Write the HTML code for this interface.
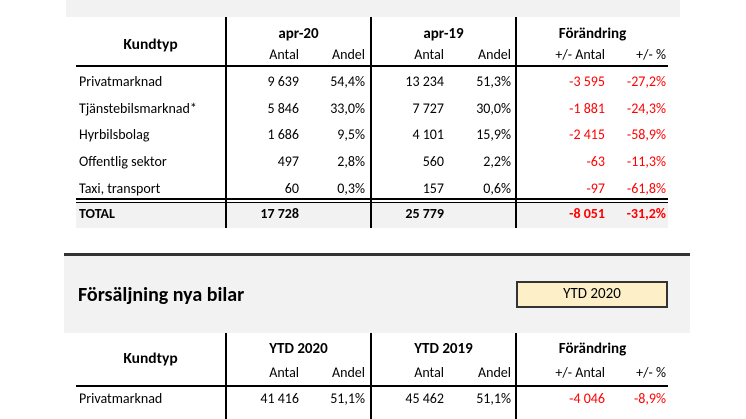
<!DOCTYPE html>
<html><head><meta charset="utf-8"><style>
body{margin:0;width:746px;height:419px;background:#fff;position:relative;overflow:hidden;font-family:"Carlito","Liberation Sans",sans-serif;font-size:14px;color:#000}
div{position:absolute}
.t{white-space:nowrap;line-height:16px}
.r{text-align:right}
.c{text-align:center}
.b{font-weight:bold}
.red{color:#ff0000}
.v{width:2px;background:#000}
</style></head><body>
<div style="left:66px;top:0;width:614px;height:17px;background:#f2f2f2"></div>
<div style="left:76px;top:203px;width:592px;height:25px;background:#f2f2f2"></div>
<div class="v" style="left:225px;top:17px;height:211px"></div>
<div class="v" style="left:370px;top:17px;height:211px"></div>
<div class="v" style="left:515px;top:17px;height:211px"></div>
<div style="left:76px;top:65px;width:592px;height:2px;background:#000"></div>
<div style="left:76px;top:198px;width:592px;height:2px;background:#000"></div>
<div style="left:76px;top:202px;width:592px;height:1px;background:#000"></div>

<div class="t b c" style="left:76px;top:36px;width:149px;font-size:15.5px;line-height:18px">Kundtyp</div>
<div class="t b c" style="left:227px;top:25px;width:143px;font-size:15px;line-height:18px">apr-20</div>
<div class="t b c" style="left:372px;top:25px;width:143px;font-size:15px;line-height:18px">apr-19</div>
<div class="t b c" style="left:517px;top:25px;width:151px;font-size:15px;line-height:18px">Förändring</div>

<div style="left:64px;top:253px;width:626px;height:3px;background:#333"></div>
<div style="left:64px;top:256px;width:626px;height:77px;background:#f2f2f2"></div>
<div class="t b" style="left:78px;top:283px;font-size:20px;line-height:24px">Försäljning nya bilar</div>
<div style="left:516px;top:281px;width:148px;height:23px;background:#fdf0c8;border:2px solid #333"></div>
<div class="t c" style="left:516px;top:285px;width:152px;font-size:15px;line-height:18px">YTD 2020</div>
<div class="v" style="left:225px;top:333px;height:86px"></div>
<div class="v" style="left:370px;top:333px;height:86px"></div>
<div class="v" style="left:515px;top:333px;height:86px"></div>
<div style="left:76px;top:385px;width:592px;height:2px;background:#000"></div>
<div class="t b c" style="left:76px;top:350px;width:149px;font-size:15.5px;line-height:18px">Kundtyp</div>
<div class="t b c" style="left:227px;top:340px;width:143px;font-size:15px;line-height:18px">YTD 2020</div>
<div class="t b c" style="left:372px;top:340px;width:143px;font-size:15px;line-height:18px">YTD 2019</div>
<div class="t b c" style="left:517px;top:340px;width:151px;font-size:15px;line-height:18px">Förändring</div>

<script>
function row(y,cells,cls){var h='';var rights=[299,365,444,511,605,666];
h+='<div class="t '+(cls||'')+'" style="left:79px;top:'+y+'px">'+cells[0]+'</div>';
for(var i=1;i<cells.length;i++){if(!cells[i])continue;var red=(i>=5&&cells[i].indexOf('+/-')!=0)?' red':'';
h+='<div class="t r '+(cls||'')+red+'" style="left:'+(rights[i-1]-100)+'px;width:100px;top:'+y+'px">'+cells[i]+'</div>';}
document.body.insertAdjacentHTML('beforeend',h);}
row(47,['','Antal','Andel','Antal','Andel','+/- Antal','+/- %']);
var d=[['Privatmarknad','9 639','54,4%','13 234','51,3%','-3 595','-27,2%'],
['Tjänstebilsmarknad*','5 846','33,0%','7 727','30,0%','-1 881','-24,3%'],
['Hyrbilsbolag','1 686','9,5%','4 101','15,9%','-2 415','-58,9%'],
['Offentlig sektor','497','2,8%','560','2,2%','-63','-11,3%'],
['Taxi, transport','60','0,3%','157','0,6%','-97','-61,8%']];
var ys=[74,101,127,154,181];
d.forEach(function(r,i){row(ys[i],r);});
row(206,['TOTAL','17 728','','25 779','','-8 051','-31,2%'],'b');
row(365,['','Antal','Andel','Antal','Andel','+/- Antal','+/- %']);
row(391,['Privatmarknad','41 416','51,1%','45 462','51,1%','-4 046','-8,9%']);
</script>
</body></html>
